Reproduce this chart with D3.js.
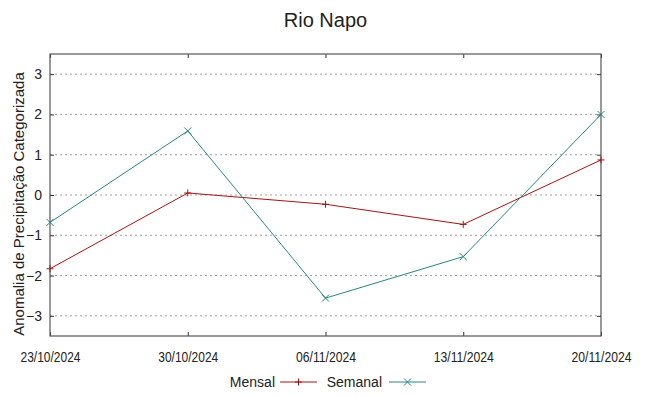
<!DOCTYPE html>
<html>
<head>
<meta charset="utf-8">
<script src="https://cdn.jsdelivr.net/npm/d3@7"></script>
<style>
  body { margin: 0; background: #fff; }
  text { font-family: "Liberation Sans", Arial, sans-serif; fill: #222; }
</style>
</head>
<body>
<div id="chart"></div>
<script>
// dates on the x axis
const dates = ['23/10/2024', '30/10/2024', '06/11/2024', '13/11/2024', '20/11/2024'];
// monthly and weekly anomaly values
const mensal = [-1.83, 0.05, -0.23, -0.73, 0.87];
const semanal = [-0.68, 1.59, -2.56, -1.53, 2.0];
const yTicks = [-3, -2, -1, 0, 1, 2, 3];

const W = 649, H = 396;
const margin = { top: 54, right: 48, bottom: 60, left: 50 };
const width = W - margin.left - margin.right;
const height = H - margin.top - margin.bottom;

const svg = d3.select('#chart').append('svg')
  .attr('width', W)
  .attr('height', H);

const g = svg.append('g')
  .attr('transform', `translate(${margin.left},${margin.top})`);

const x = d3.scalePoint().domain(dates).range([0, width]);
const y = d3.scaleLinear().domain([-3.5, 3.5]).range([height, 0]);

// dotted horizontal grid
g.selectAll('.grid')
  .data(yTicks)
  .enter()
  .append('line')
  .attr('x1', 0)
  .attr('x2', width)
  .attr('y1', d => y(d))
  .attr('y2', d => y(d))
  .attr('stroke', '#a0a0a0')
  .attr('stroke-width', 1)
  .attr('stroke-dasharray', '2,3');

// axes with inward ticks, mirrored
const tickStyle = sel => {
  sel.select('.domain').remove();
  sel.selectAll('line').attr('stroke', '#333');
};

g.append('g')
  .call(d3.axisLeft(y).tickValues(yTicks).tickSize(-4).tickPadding(8).tickFormat(d3.format('d')))
  .call(tickStyle)
  .call(s => s.selectAll('text').style('font-size', '14px').attr('fill', '#222'));

g.append('g')
  .attr('transform', `translate(${width},0)`)
  .call(d3.axisRight(y).tickValues(yTicks).tickSize(-4).tickFormat(''))
  .call(tickStyle);

// date labels are condensed in the original
g.append('g')
  .attr('transform', `translate(0,${height})`)
  .call(d3.axisBottom(x).tickSize(-4))
  .call(tickStyle)
  .call(s => s.selectAll('text')
    .attr('dy', null)
    .attr('y', 26)
    .attr('x', -30)
    .attr('text-anchor', 'start')
    .attr('textLength', 60)
    .attr('lengthAdjust', 'spacingAndGlyphs')
    .style('font-size', '15px')
    .attr('fill', '#222'));

g.append('g')
  .call(d3.axisTop(x).tickSize(-4).tickFormat(''))
  .call(tickStyle);

// frame
g.append('rect')
  .attr('width', width)
  .attr('height', height)
  .attr('fill', 'none')
  .attr('stroke', '#555')
  .attr('stroke-width', 1.2);

const series = [
  { name: 'Mensal', values: mensal, color: '#a51414', mark: 'plus' },
  { name: 'Semanal', values: semanal, color: '#2a8585', mark: 'cross' }
];

const line = d3.line()
  .x((d, i) => x(dates[i]))
  .y(d => y(d));

const drawMark = (sel, type, cx, cy, color) => {
  const s = 3.5;
  if (type === 'plus') {
    sel.append('path')
      .attr('d', `M${cx - s},${cy}H${cx + s}M${cx},${cy - s}V${cy + s}`)
      .attr('stroke', color).attr('fill', 'none');
  } else {
    sel.append('path')
      .attr('d', `M${cx - s},${cy - s}L${cx + s},${cy + s}M${cx - s},${cy + s}L${cx + s},${cy - s}`)
      .attr('stroke', color).attr('fill', 'none');
  }
};

series.forEach(sr => {
  g.append('path')
    .datum(sr.values)
    .attr('fill', 'none')
    .attr('stroke', sr.color)
    .attr('stroke-width', 1)
    .attr('d', line);
  sr.values.forEach((v, i) => drawMark(g, sr.mark, x(dates[i]), y(v), sr.color));
});

// title
svg.append('text')
  .attr('x', margin.left + width / 2)
  .attr('y', 27)
  .attr('text-anchor', 'middle')
  .style('font-size', '20px')
  .text('Rio Napo');

// y axis label
svg.append('text')
  .attr('transform', 'rotate(-90)')
  .attr('x', -204)
  .attr('y', 24)
  .attr('text-anchor', 'middle')
  .style('font-size', '15px')
  .text('Anomalia de Precipitação Categorizada');

// legend
const legend = svg.append('g').attr('transform', 'translate(0,382)');
const legendPos = [{ tx: 275, lx: 280 }, { tx: 382, lx: 389 }];
series.forEach((sr, i) => {
  const p = legendPos[i];
  legend.append('text')
    .attr('x', p.tx)
    .attr('y', 5)
    .attr('text-anchor', 'end')
    .style('font-size', '14px')
    .text(sr.name);
  legend.append('line')
    .attr('x1', p.lx)
    .attr('x2', p.lx + 37)
    .attr('y1', 0)
    .attr('y2', 0)
    .attr('stroke', sr.color);
  drawMark(legend, sr.mark, p.lx + 18.5, 0, sr.color);
});
</script>
</body>
</html>
